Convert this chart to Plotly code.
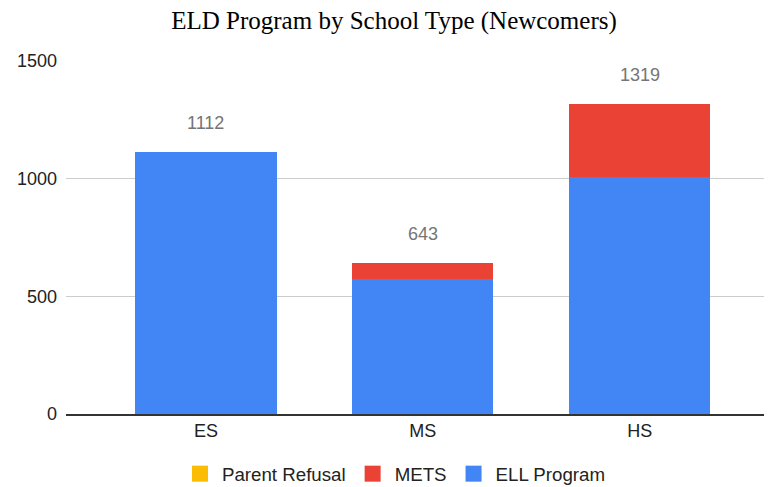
import plotly.graph_objects as go

schools = ["ES", "MS", "HS"]
ell_program = [1112, 572, 1005]
mets = [0, 71, 314]
parent_refusal = [0, 0, 0]
totals = [1112, 643, 1319]

series = [
    ("ELL Program", ell_program, "#4285F4"),
    ("METS", mets, "#EA4335"),
    ("Parent Refusal", parent_refusal, "#FBBC04"),
]

fig = go.Figure()

for name, vals, col in series:
    fig.add_trace(go.Bar(x=schools, y=vals, name=name, marker_color=col,
                         width=0.651, marker_line_width=0, showlegend=False))

# legend entries with square swatches
for name, vals, col in series:
    fig.add_trace(go.Scatter(x=[None], y=[None], mode="markers", name=name,
                             marker=dict(symbol="square", size=16, color=col)))

# total labels above each stack
for s, t in zip(schools, totals):
    fig.add_annotation(x=s, y=t, text=str(t), showarrow=False, yshift=29,
                       font=dict(family="Liberation Sans, Arial", size=18, color="#757575"))

# page has ~8px body margin, so margins are shifted to compensate
fig.update_layout(
    width=772, height=487,
    barmode="stack",
    plot_bgcolor="white", paper_bgcolor="white",
    margin=dict(l=53, r=9, t=53, b=81),
    title=dict(text="ELD Program by School Type (Newcomers)", x=0.5, xanchor="center",
               y=0.974, yanchor="middle",
               font=dict(family="Liberation Serif, Times New Roman", size=25, color="#000000")),
    font=dict(family="Liberation Sans, Arial", size=18, color="#222222"),
    showlegend=True,
    legend=dict(orientation="h", xref="container", x=0.5, xanchor="center",
                yref="container", y=0.0431, yanchor="middle", itemsizing="trace",
                itemwidth=34, traceorder="reversed", font=dict(size=18.7, color="#222222")),
)

fig.update_xaxes(range=[-0.645, 2.605], showline=True, linecolor="#333333", linewidth=1.5,
                 showgrid=False, ticks="", tickfont=dict(size=18))
fig.update_yaxes(range=[0, 1500], tickvals=[0, 500, 1000, 1500], showgrid=True,
                 gridcolor="#cccccc", gridwidth=1, zeroline=False, ticklabelstandoff=8,
                 tickfont=dict(size=18), fixedrange=True)

fig.write_html("out.html")
